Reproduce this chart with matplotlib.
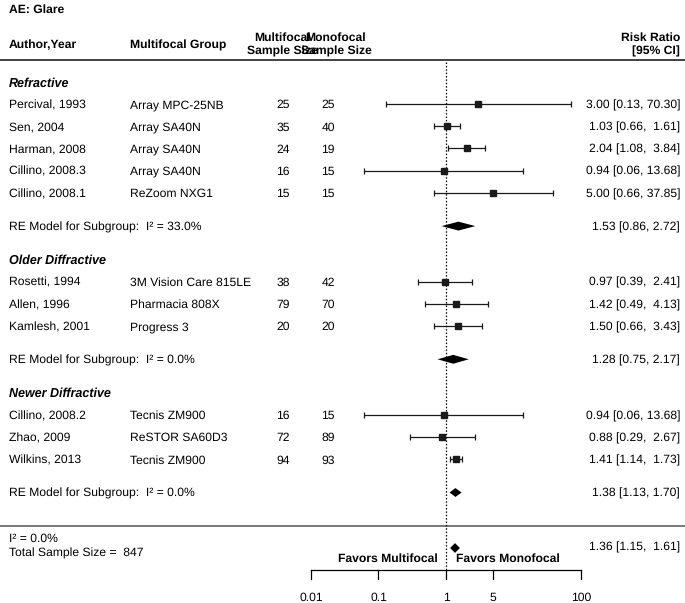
# Forest plot: AE Glare, risk ratio multifocal vs monofocal
import numpy as np
import matplotlib
matplotlib.use("Agg")
import matplotlib.pyplot as plt

plt.rcParams["font.family"] = ["Liberation Sans", "DejaVu Sans"]
plt.rcParams["text.hinting"] = "no_hinting"
FS = 8.7
VA = "center_baseline"

# ----------------------------------------------------------
# DATA
# ----------------------------------------------------------
autores = ["Percival, 1993", "Sen, 2004", "Harman, 2008", "Cillino, 2008.3", "Cillino, 2008.1",
           "Rosetti, 1994", "Allen, 1996", "Kamlesh, 2001",
           "Cillino, 2008.2", "Zhao, 2009", "Wilkins, 2013"]
lentes = ["Array MPC-25NB", "Array SA40N", "Array SA40N", "Array SA40N", "ReZoom NXG1",
          "3M Vision Care 815LE", "Pharmacia 808X", "Progress 3",
          "Tecnis ZM900", "ReSTOR SA60D3", "Tecnis ZM900"]
n_multi = [25, 35, 24, 16, 15, 38, 79, 20, 16, 72, 94]
n_mono = [25, 40, 19, 15, 15, 42, 70, 20, 15, 89, 93]
rr = [3.00, 1.03, 2.04, 0.94, 5.00, 0.97, 1.42, 1.50, 0.94, 0.88, 1.41]
ci_lo = [0.13, 0.66, 1.08, 0.06, 0.66, 0.39, 0.49, 0.66, 0.06, 0.29, 1.14]
ci_hi = [70.30, 1.61, 3.84, 13.68, 37.85, 2.41, 4.13, 3.43, 13.68, 2.67, 1.73]

subgrupos = ["Refractive", "Older Diffractive", "Newer Diffractive"]
n_por_subgrupo = [5, 3, 3]
sub_i2 = [33.0, 0.0, 0.0]
sub_rr = [1.53, 1.28, 1.38]
sub_lo = [0.86, 0.75, 1.13]
sub_hi = [2.72, 2.17, 1.70]

total_i2 = 0.0
total_n = 847
total_rr = 1.36
total_lo = 1.15
total_hi = 1.61

ticks = [0.01, 0.1, 1, 5, 100]

# ----------------------------------------------------------
# LAYOUT (rows, top = 0)
# ----------------------------------------------------------
fig = plt.figure(figsize=(6.85, 6.03), dpi=100)
ax = fig.add_axes([0, 0, 1, 1])
ax.set_xscale("log")
ax.set_xlim(10 ** (-446 / 67.5), 10 ** ((685 - 446) / 67.5))
ax.set_ylim((603 - 59.6) / 22.2, (0 - 59.6) / 22.2)
ax.axis("off")
tr = ax.get_yaxis_transform()  # x in axes fraction, y in data

X_AUT, X_GRP, X_N1, X_N2, X_RR = 9 / 685, 130 / 685, 283 / 685, 328 / 685, 680 / 685

# encabezados
ax.text(X_AUT, -2.3, "AE: Glare", transform=tr, fontsize=FS, fontweight="bold", va=VA)
ax.text(X_AUT, -0.7, "Author,Year", transform=tr, fontsize=FS, fontweight="bold", va=VA)
ax.text(X_GRP, -0.7, "Multifocal Group", transform=tr, fontsize=FS, fontweight="bold", va=VA)
ax.text(282 / 685, -1.06, "Multifocal", transform=tr, fontsize=FS, fontweight="bold", va=VA, ha="center")
ax.text(282 / 685, -0.43, "Sample Size", transform=tr, fontsize=FS, fontweight="bold", va=VA, ha="center")
ax.text(336 / 685, -1.06, "Monofocal", transform=tr, fontsize=FS, fontweight="bold", va=VA, ha="center")
ax.text(336 / 685, -0.43, "Sample Size", transform=tr, fontsize=FS, fontweight="bold", va=VA, ha="center")
ax.text(X_RR, -1.06, "Risk Ratio", transform=tr, fontsize=FS, fontweight="bold", va=VA, ha="right")
ax.text(X_RR, -0.43, "[95% CI]", transform=tr, fontsize=FS, fontweight="bold", va=VA, ha="right")

ax.axhline(0, color="#222222", lw=1.2)
ax.axhline(21, color="#555555", lw=1.1)

# filas por subgrupo
fila = 1.0
i = 0
for s, nombre in enumerate(subgrupos):
    ax.text(X_AUT, fila, nombre, transform=tr, fontsize=FS + 0.3, fontweight="bold",
            fontstyle="italic", va=VA)
    for _ in range(n_por_subgrupo[s]):
        fila += 1
        ax.text(X_AUT, fila, autores[i], transform=tr, fontsize=FS, va=VA)
        ax.text(X_GRP, fila, lentes[i], transform=tr, fontsize=FS, va=VA)
        ax.text(X_N1, fila, str(n_multi[i]), transform=tr, fontsize=FS, va=VA, ha="center")
        ax.text(X_N2, fila, str(n_mono[i]), transform=tr, fontsize=FS, va=VA, ha="center")
        ax.text(X_RR, fila, f"{rr[i]:.2f} [{ci_lo[i]:.2f}, {ci_hi[i]:5.2f}]",
                transform=tr, fontsize=FS, va=VA, ha="right")
        ax.errorbar(rr[i], fila, xerr=[[rr[i] - ci_lo[i]], [ci_hi[i] - rr[i]]], fmt="s",
                    color="#1a1a1a", ms=3.8, elinewidth=0.9, capsize=2.2, capthick=0.9)
        i += 1
    fila += 1.5
    ax.text(X_AUT, fila, f"RE Model for Subgroup:  I\u00b2 = {sub_i2[s]:.1f}%", transform=tr,
            fontsize=FS, va=VA)
    ax.text(X_RR, fila, f"{sub_rr[s]:.2f} [{sub_lo[s]:.2f}, {sub_hi[s]:.2f}]", transform=tr,
            fontsize=FS, va=VA, ha="right")
    ax.fill([sub_lo[s], sub_rr[s], sub_hi[s], sub_rr[s]], [fila, fila - 0.2, fila, fila + 0.2],
            color="black", lw=0)
    fila += 1.5

# global
ax.text(X_AUT, 21.55, f"I\u00b2 = {total_i2:.1f}%", transform=tr, fontsize=FS, va=VA)
ax.text(X_AUT, 22.18, f"Total Sample Size =  {total_n}", transform=tr, fontsize=FS, va=VA)
ax.text(X_RR, 21.9, f"{total_rr:.2f} [{total_lo:.2f}, {total_hi:5.2f}]", transform=tr,
        fontsize=FS, va=VA, ha="right")
ax.fill([total_lo, total_rr, total_hi, total_rr], [22, 21.78, 22, 22.22], color="black", lw=0)

# linea de referencia
ax.plot([1, 1], [0.1, 23], color="black", lw=0.9, ls=(0, (1.2, 1.5)))

# eje inferior
ax.plot([ticks[0], ticks[-1]], [23, 23], color="black", lw=0.9)
for t in ticks:
    ax.plot([t, t], [23, 23.38], color="black", lw=0.9)
    ax.text(t, 24.2, f"{t:g}", fontsize=FS, ha="center", va=VA)

ax.annotate("Favors Multifocal", xy=(1, 22.45), xytext=(-6, 0), textcoords="offset points",
            fontsize=FS, fontweight="bold", ha="right", va=VA)
ax.annotate("Favors Monofocal", xy=(1, 22.45), xytext=(7, 0), textcoords="offset points",
            fontsize=FS, fontweight="bold", ha="left", va=VA)

fig.savefig("out.png", dpi=100)
